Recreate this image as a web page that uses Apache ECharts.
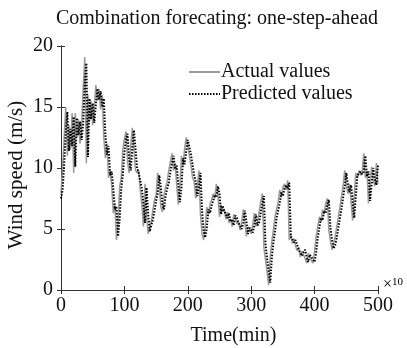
<!DOCTYPE html>
<html>
<head>
<meta charset="utf-8">
<script src="https://cdn.jsdelivr.net/npm/echarts@6/dist/echarts.min.js"></script>
<style>
  html, body { margin: 0; padding: 0; background: #fff; }
  #chart { width: 407px; height: 348px; }
</style>
</head>
<body>
<div id="chart"></div>
<script>
// time step between samples (x10 min)
const step = 2.5

const actualValues = [
  7.9, 10, 12.5, 15, 11, 13.5, 11.5, 14.5, 9.6, 14.5,
  12.5, 14, 12, 13.5, 16.5, 19.1, 10.4, 16, 13.8, 15.5,
  13.5, 15, 16.8, 15.5, 16.5, 14.8, 16, 12.5, 10.8, 12,
  9.2, 9.8, 8.5, 6.3, 7, 4.1, 5.5, 8.5, 9.2, 11.5,
  12.4, 13, 10.5, 9.6, 11.8, 13.3, 11.5, 9.8, 9.6, 9.8,
  8.2, 7, 5.2, 8.7, 6, 4.6, 5.2, 5.7, 6.6, 7.4,
  7.8, 9.6, 8.5, 6.8, 6.4, 7.8, 8.4, 8.9, 9.8, 10.5,
  11.2, 9.8, 10.4, 8.6, 7.0, 8.5, 11, 10.2, 11.6, 12.5,
  11.8, 11, 10.2, 9.2, 8.9, 7.5, 8.5, 9.8, 6.2, 4.6,
  4.1, 5.2, 6.8, 6.2, 7, 7.4, 7.9, 7.5, 8.7, 7.8,
  6, 7, 6.4, 6.6, 5.8, 6.4, 5.5, 5.8, 5.2, 6.2,
  6, 5.4, 5.6, 4.9, 5.6, 6.6, 5.5, 4.4, 5.2, 5.0,
  4.6, 5.4, 6.3, 5.2, 5.5, 6.4, 7.2, 7.9, 3.5, 2.5,
  1.5, 0.4, 2.7, 4.0, 4.9, 6, 6.6, 7.2, 8.2, 7.6,
  8.4, 8.7, 8.2, 9.0, 4.1, 4.5, 3.8, 4.2, 3.6, 3.2,
  3.5, 2.7, 3.2, 3.3, 2.6, 2.2, 3.0, 3.0, 2.4, 2.2,
  3.2, 4.4, 5.2, 6.0, 5.6, 6.6, 6.2, 7.1, 7.5, 4.9,
  4.0, 3.3, 3.8, 4.4, 5.2, 6.0, 6.8, 7.7, 8.6, 9.8,
  8.5, 7.9, 8.7, 7.2, 5.7, 7.8, 9.6, 9.2, 9.8, 9.4,
  9.6, 11.2, 9.2, 9.8, 7.1, 8.8, 10.1, 9.0, 8.5, 10.4,
  8.7
]

const predictedValues = [
  7.5, 8.2, 10.3, 12.8, 14.6, 11.4, 13.2, 11.8, 14.2, 10.1,
  14.1, 12.7, 13.8, 12.3, 13.6, 16.8, 18.6, 10.9, 15.7, 14,
  15.3, 13.7, 15.2, 16.5, 15.6, 16.3, 15, 15.7, 12.7, 11.1,
  11.8, 9.4, 9.7, 8.3, 6.6, 6.8, 4.4, 5.8, 8.3, 9.4,
  11.3, 12.3, 12.8, 10.7, 9.8, 11.6, 13.1, 11.6, 10, 9.6,
  9.7, 8.3, 7.1, 5.5, 8.4, 6.2, 4.8, 5.3, 5.8, 6.5,
  7.3, 7.9, 9.4, 8.4, 7, 6.6, 7.7, 8.3, 8.8, 9.7,
  10.4, 11, 9.9, 10.2, 8.7, 7.2, 8.4, 10.8, 10.3, 11.4,
  12.3, 11.7, 11.1, 10.3, 9.4, 8.9, 7.7, 8.4, 9.6, 6.5,
  4.8, 4.3, 5.1, 6.6, 6.3, 6.9, 7.3, 7.8, 7.6, 8.5,
  7.9, 6.2, 6.9, 6.5, 6.5, 5.9, 6.3, 5.6, 5.8, 5.3,
  6.1, 5.9, 5.5, 5.6, 5.0, 5.5, 6.5, 5.6, 4.6, 5.1,
  5.0, 4.7, 5.3, 6.2, 5.3, 5.5, 6.3, 7.1, 7.7, 3.8,
  2.6, 1.6, 0.6, 2.6, 3.9, 4.8, 5.9, 6.5, 7.1, 8.0,
  7.7, 8.3, 8.6, 8.3, 8.8, 4.4, 4.4, 3.9, 4.1, 3.7,
  3.3, 3.4, 2.8, 3.1, 3.3, 2.7, 2.3, 2.9, 3.0, 2.5,
  2.3, 3.1, 4.3, 5.1, 5.9, 5.7, 6.5, 6.3, 7.0, 7.4,
  5.1, 4.1, 3.4, 3.7, 4.3, 5.1, 5.9, 6.7, 7.6, 8.5,
  9.6, 8.6, 8.0, 8.6, 7.3, 5.9, 7.7, 9.4, 9.3, 9.7,
  9.5, 9.7, 11.0, 9.3, 9.7, 7.3, 8.7, 10.0, 9.1, 8.6,
  10.2
]

const xTicks = [0, 100, 200, 300, 400, 500]
const yTicks = [0, 5, 10, 15, 20]

const serif = '"Liberation Serif", "DejaVu Serif", serif'

const toPairs = (vals) => vals.map((v, i) => [i * step, v])

const chart = echarts.init(document.getElementById('chart'), null, { renderer: 'canvas' })

const axisCommon = {
  axisLine: { lineStyle: { color: '#333', width: 1 } },
  axisTick: { inside: true, length: 4, lineStyle: { color: '#333' } },
  splitLine: { show: false },
}

chart.setOption({
  backgroundColor: '#fff',
  animation: false,
  title: {
    text: 'Combination forecating: one-step-ahead',
    left: 212,
    top: 4,
    textAlign: 'center',
    textStyle: { fontFamily: serif, fontSize: 20, fontWeight: 'normal', color: '#111' },
  },
  grid: { left: 61, right: 29, top: 46, bottom: 58, outerBoundsMode: 'none', containLabel: false },
  legend: {
    orient: 'vertical',
    left: 183,
    top: 57,
    padding: 5,
    itemWidth: 31,
    itemHeight: 12,
    itemGap: 2,
    itemStyle: { opacity: 0 },
    textStyle: { fontFamily: serif, fontSize: 20, color: '#111', padding: [0, 0, 0, -4] },
    data: ['Actual values', 'Predicted values'],
  },
  xAxis: [
    {
      type: 'value',
      min: xTicks[0],
      max: xTicks[xTicks.length - 1],
      interval: 100,
      name: 'Time(min)',
      nameLocation: 'middle',
      nameGap: 36,
      nameMoveOverlap: false,
      nameTextStyle: { fontFamily: serif, fontSize: 20, color: '#111', padding: [0, 0, 0, 28] },
      axisLabel: { fontFamily: serif, fontSize: 20, color: '#111', margin: 6 },
      ...axisCommon,
    },
    {
      type: 'value',
      position: 'top',
      min: xTicks[0],
      max: xTicks[xTicks.length - 1],
      interval: 100,
      axisLabel: { show: false },
      ...axisCommon,
    },
  ],
  yAxis: [
    {
      type: 'value',
      min: yTicks[0],
      max: yTicks[yTicks.length - 1],
      interval: 5,
      name: 'Wind speed (m/s)',
      nameLocation: 'middle',
      nameGap: 34,
      nameMoveOverlap: false,
      nameTextStyle: { fontFamily: serif, fontSize: 21, color: '#111', padding: [0, 0, 0, -14] },
      axisLabel: { fontFamily: serif, fontSize: 20, color: '#111', margin: 8 },
      ...axisCommon,
    },
    {
      type: 'value',
      position: 'right',
      min: yTicks[0],
      max: yTicks[yTicks.length - 1],
      interval: 5,
      axisLabel: { show: false },
      ...axisCommon,
    },
  ],
  graphic: [
    {
      type: 'text',
      left: 383,
      top: 277,
      style: {
        text: '{a|×}{b|10}',
        rich: {
          a: { fontFamily: serif, fontSize: 16, color: '#111', verticalAlign: 'bottom' },
          b: { fontFamily: serif, fontSize: 11, color: '#111', verticalAlign: 'top' },
        },
      },
    },
  ],
  series: [
    {
      name: 'Actual values',
      type: 'line',
      data: toPairs(actualValues),
      showSymbol: false,
      symbol: 'none',
      lineStyle: { color: '#9a9a9a', width: 1.5, type: 'solid' },
      itemStyle: { color: '#9a9a9a' },
    },
    {
      name: 'Predicted values',
      type: 'line',
      data: toPairs(predictedValues),
      showSymbol: false,
      symbol: 'none',
      lineStyle: { color: '#000', width: 2, type: [1.5, 1.5] },
      itemStyle: { color: '#000' },
    },
  ],
})
</script>
</body>
</html>
